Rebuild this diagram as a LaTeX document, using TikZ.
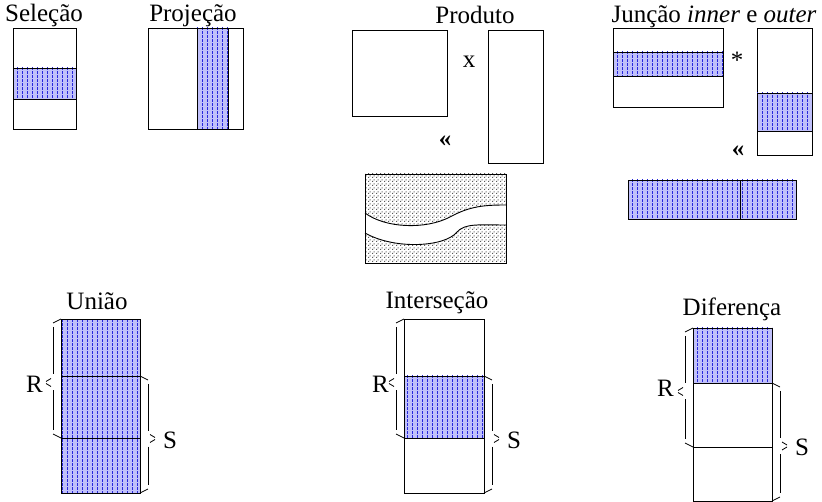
\documentclass[tikz,border=0pt]{standalone}
\usepackage{fontspec}
\setmainfont{Liberation Serif}
\usetikzlibrary{patterns}
\pgfdeclarepatternformonly{vdashpat}{\pgfqpoint{-1pt}{-1pt}}{\pgfqpoint{6pt}{5pt}}{\pgfqpoint{5pt}{4pt}}{%
  \pgfsetlinewidth{0.9pt}%
  \pgfpathmoveto{\pgfqpoint{2.5pt}{0.4pt}}%
  \pgfpathlineto{\pgfqpoint{2.5pt}{2.6pt}}%
  \pgfusepath{stroke}}
\pgfdeclarepatternformonly{sqdots}{\pgfqpoint{0pt}{0pt}}{\pgfqpoint{4pt}{4pt}}{\pgfqpoint{4pt}{4pt}}{%
  \pgfpathrectangle{\pgfqpoint{0pt}{0pt}}{\pgfqpoint{1.3pt}{1.3pt}}%
  \pgfpathrectangle{\pgfqpoint{2pt}{2pt}}{\pgfqpoint{1.3pt}{1.3pt}}%
  \pgfusepath{fill}}
\definecolor{lb}{RGB}{192,192,250}
\definecolor{db}{RGB}{40,40,220}
\tikzset{
  box/.style={draw=black, line width=0.9pt},
  hatch/.style={draw=black, line width=0.9pt, preaction={fill=lb}, pattern=vdashpat, pattern color=db},
  lbl/.style={inner sep=0pt, font=\fontsize{25}{29}\selectfont},
  br/.style={draw=black, line width=0.8pt},
}
\newcommand\mybraceL[3]{%
  \pgfmathsetmacro\ym{(#2+#3)/2+4}
  \draw[br] (#1,#2) -- (#1-8,#2+4);
  \draw[br] (#1-8,#2+8) -- (#1-8,\ym-8);
  \draw[br] (#1-10,\ym-4) -- (#1-15,\ym-1);
  \draw[br] (#1-15,\ym+1) -- (#1-10,\ym+4);
  \draw[br] (#1-8,\ym+8) -- (#1-8,#3-8);
  \draw[br] (#1-8,#3-4) -- (#1,#3);
}
\newcommand\mybraceR[3]{%
  \pgfmathsetmacro\ym{(#2+#3)/2+4}
  \draw[br] (#1,#2) -- (#1+8,#2+4);
  \draw[br] (#1+8,#2+8) -- (#1+8,\ym-8);
  \draw[br] (#1+10,\ym-4) -- (#1+15,\ym-1);
  \draw[br] (#1+15,\ym+1) -- (#1+10,\ym+4);
  \draw[br] (#1+8,\ym+8) -- (#1+8,#3-8);
  \draw[br] (#1+8,#3-4) -- (#1,#3);
}
\begin{document}
\begin{tikzpicture}[x=1pt,y=-1pt]
\path[use as bounding box] (0,0) rectangle (822,502);
% Selecao
\node[lbl, anchor=base] (tsel) at (44,22) {Seleção};
\draw[box] (13,28) rectangle (76,129);
\draw[hatch] (13,68) rectangle (76,99);
% Projecao
\node[lbl, anchor=base] (tproj) at (193,22) {Projeção};
\draw[box] (148,28) rectangle (243,129);
\draw[hatch] (197,28) rectangle (228,129);
% Produto
\node[lbl, anchor=base] (tprod) at (475,24) {Produto};
\draw[box] (352,30) rectangle (447,116);
\node[lbl, anchor=base] (tx) at (469,68) {x};
\draw[box] (488,30) rectangle (543,163);
\node[lbl, anchor=base] (tg1) at (445,147) {\bfseries «};
\fill[pattern=sqdots, pattern color=black!65] (365,174) rectangle (506,263);
\fill[white] (365,213) .. controls (385,228) and (425,230) .. (450,217) .. controls (470,206) and (485,205) .. (506,205)
  -- (506,225) .. controls (480,225) and (465,223) .. (457,232) .. controls (445,247) and (395,250) .. (365,233) -- cycle;
\draw[black, line width=0.9pt] (365,213) .. controls (385,228) and (425,230) .. (450,217) .. controls (470,206) and (485,205) .. (506,205);
\draw[black, line width=0.9pt] (506,225) .. controls (480,225) and (465,223) .. (457,232) .. controls (445,247) and (395,250) .. (365,233);
\draw[box] (365,174) rectangle (506,263);
% Juncao
\node[lbl, anchor=base] (tjun) at (714,23) {Junção \textit{inner} e \textit{outer}};
\draw[box] (613,28) rectangle (723,107);
\draw[hatch] (613,52) rectangle (723,76);
\node[lbl, anchor=base] (tast) at (737,69) {*};
\draw[box] (757,28) rectangle (812,155);
\draw[hatch] (757,93) rectangle (812,131);
\node[lbl, anchor=base] (tg2) at (738,157) {\bfseries «};
\draw[hatch] (628,180) rectangle (740,219);
\draw[hatch] (740,180) rectangle (796,219);
% Uniao
\node[lbl, anchor=base] (tuni) at (97,310) {União};
\draw[hatch] (61,319) rectangle (140,493);
\draw[box] (61,376) -- (140,376);
\draw[box] (61,438) -- (140,438);
\mybraceL{61}{319}{438}
\mybraceR{140}{376}{493}
\node[lbl, anchor=base west] (ru) at (26,392) {R};
\node[lbl, anchor=base west] (su) at (163,448) {S};
% Intersecao
\node[lbl, anchor=base] (tint) at (437,309) {Interseção};
\draw[box] (404,319) rectangle (484,493);
\draw[hatch] (404,376) rectangle (484,438);
\mybraceL{404}{319}{438}
\mybraceR{484}{376}{493}
\node[lbl, anchor=base west] (ri) at (372,392) {R};
\node[lbl, anchor=base west] (si) at (507,448) {S};
% Diferenca
\node[lbl, anchor=base] (tdif) at (732,316) {Diferença};
\draw[box] (693,328) rectangle (772,501);
\draw[hatch] (693,328) rectangle (772,383);
\draw[box] (693,447) -- (772,447);
\mybraceL{693}{328}{447}
\mybraceR{772}{383}{501}
\node[lbl, anchor=base west] (rd) at (657,397) {R};
\node[lbl, anchor=base west] (sd) at (795,455) {S};
\end{tikzpicture}
\end{document}
